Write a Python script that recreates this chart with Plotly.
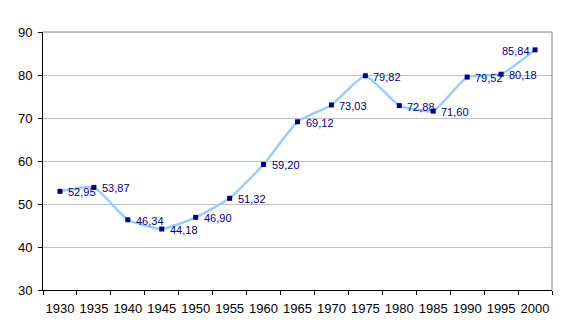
import plotly.graph_objects as go

years = ["1930", "1935", "1940", "1945", "1950", "1955", "1960", "1965",
         "1970", "1975", "1980", "1985", "1990", "1995", "2000"]
values = [52.95, 53.87, 46.34, 44.18, 46.90, 51.32, 59.20, 69.12,
          73.03, 79.82, 72.88, 71.60, 79.52, 80.18, 85.84]
# label side for each point: the last one sits left of its marker
label_side = ["right"] * 14 + ["left"]

FONT = "Arial, Liberation Sans, sans-serif"

fig = go.Figure()
fig.add_trace(go.Scatter(
    x=years, y=values,
    mode="lines+markers",
    line=dict(color="#99CCFF", width=2.5, shape="spline", smoothing=0.45),
    marker=dict(symbol="square", size=5, color="#000080"),
    hoverinfo="x+y",
))

annotations = []
for i, (v, side) in enumerate(zip(values, label_side)):
    # category axis: annotation x is the category index
    annotations.append(dict(
        x=i, y=v, xref="x", yref="y",
        text=f"{v:.2f}".replace(".", ","),
        showarrow=False,
        xanchor="left" if side == "right" else "right",
        yanchor="middle",
        xshift=6 if side == "right" else -3,
        yshift=-1,
        font=dict(family=FONT, size=11, color="#000080"),
    ))

fig.update_layout(
    width=567, height=335,
    margin=dict(l=43, r=15, t=32, b=45),
    paper_bgcolor="white", plot_bgcolor="white",
    showlegend=False,
    font=dict(family=FONT, size=13, color="black"),
    annotations=annotations,
    xaxis=dict(
        type="category", range=[-0.5, 14.5],
        tickson="boundaries", ticks="outside", ticklen=4, tickcolor="black",
        tickangle=0, ticklabelstandoff=6,
        showline=True, linecolor="black", linewidth=1,
        showgrid=False, zeroline=False,
        tickfont=dict(family=FONT, size=13, color="black"),
    ),
    yaxis=dict(
        range=[30, 90], dtick=10,
        ticks="outside", ticklen=4, tickcolor="black",
        ticklabelstandoff=3,
        showline=True, linecolor="black", linewidth=1,
        showgrid=True, gridcolor="#C0C0C0", gridwidth=1,
        zeroline=False,
        tickfont=dict(family=FONT, size=13, color="black"),
    ),
    shapes=[
        dict(type="line", xref="paper", yref="paper", x0=0, x1=1, y0=1, y1=1,
             line=dict(color="#808080", width=1)),
        dict(type="line", xref="paper", yref="paper", x0=1, x1=1, y0=0, y1=1,
             line=dict(color="#808080", width=1)),
    ],
)

fig.write_html("out.html")
